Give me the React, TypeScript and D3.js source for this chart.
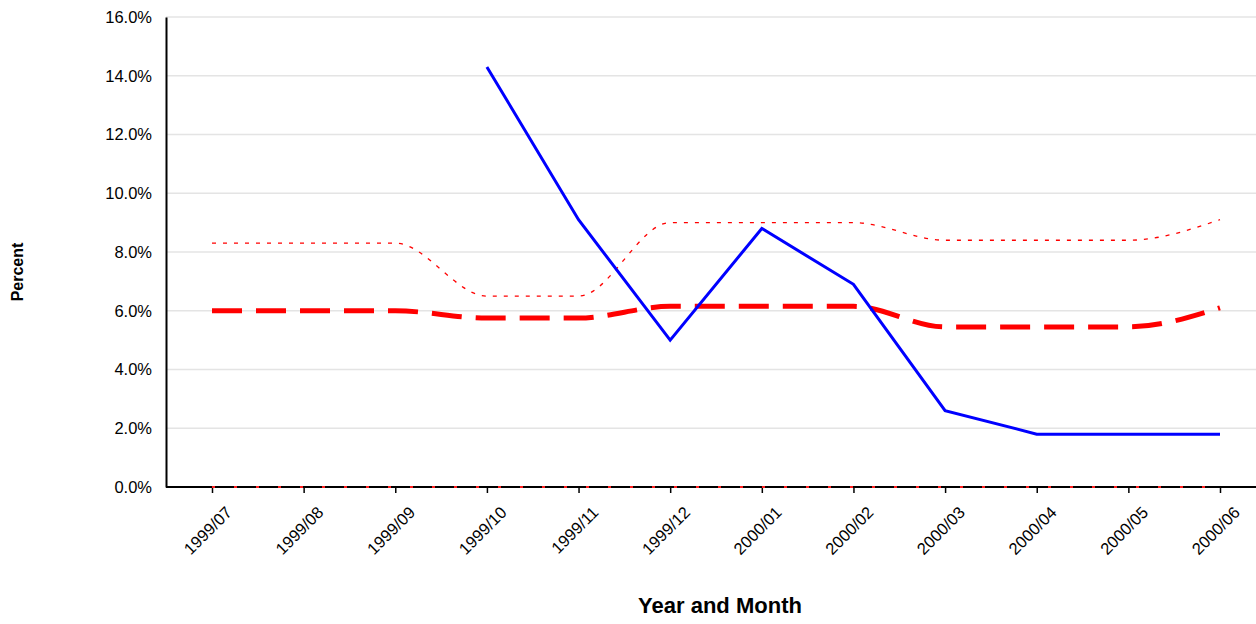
import { useEffect, useRef } from "react";
import * as d3 from "d3";

const months = ["1999/07", "1999/08", "1999/09", "1999/10", "1999/11", "1999/12", "2000/01", "2000/02", "2000/03", "2000/04", "2000/05", "2000/06"];
const actual: (number | null)[] = [null, null, null, 14.3, 9.1, 5.0, 8.8, 6.9, 2.6, 1.8, 1.8, 1.8];
const average = [6.0, 6.0, 6.0, 5.75, 5.75, 6.15, 6.15, 6.15, 5.45, 5.45, 5.45, 6.1];
const upper = [8.3, 8.3, 8.3, 6.5, 6.5, 9.0, 9.0, 9.0, 8.4, 8.4, 8.4, 9.1];
const lower = [0, 0, 0, 0, 0, 0, 0, 0, 0, 0, 0, 0];
const yTicks = [0, 2, 4, 6, 8, 10, 12, 14, 16];

const App = () => {
  const ref = useRef<SVGSVGElement | null>(null);

  useEffect(() => {
    const svg = d3.select(ref.current);
    svg.selectAll("*").remove();
    const left = 166, right = 1256, top = 17, bottom = 487;

    const x = d3.scalePoint<string>().domain(months).range([212, 1220]);
    const y = d3.scaleLinear().domain([0, 16]).range([bottom, top]);
    const font = "Arial, 'Liberation Sans', sans-serif";

    // grid
    svg.append("g").selectAll("line").data(yTicks.slice(1)).enter().append("line")
      .attr("x1", left).attr("x2", right)
      .attr("y1", d => y(d)).attr("y2", d => y(d))
      .attr("stroke", "#e4e4e4").attr("stroke-width", 1.5);

    // y axis
    const ya = svg.append("g").attr("transform", `translate(${left},0)`)
      .call(d3.axisLeft(y).tickValues(yTicks).tickFormat(d => `${(+d).toFixed(1)}%`).tickSize(0).tickPadding(14));
    ya.select(".domain").attr("stroke", "#000").attr("stroke-width", 2);
    ya.selectAll("text").attr("font-family", font).attr("font-size", 16.5).attr("fill", "#000");

    // x axis
    const xa = svg.append("g").attr("transform", `translate(0,${bottom})`)
      .call(d3.axisBottom(x).tickSize(6).tickSizeOuter(0));
    xa.select(".domain").attr("d", `M${left},0H${right}`).attr("stroke", "#000").attr("stroke-width", 2);
    xa.selectAll("line").attr("stroke", "#000").attr("stroke-width", 1.5);
    xa.selectAll("text")
      .attr("font-family", font).attr("font-size", 16.5).attr("fill", "#000")
      .attr("text-anchor", "end").attr("dy", "0.35em")
      .attr("transform", "translate(10,16) rotate(-45)");

    const line = (vals: (number | null)[], curve: d3.CurveFactory) =>
      d3.line<number | null>()
        .defined(d => d !== null)
        .x((_, i) => x(months[i])!)
        .y(d => y(d as number))
        .curve(curve)(vals);

    svg.append("path").attr("d", line(lower, d3.curveLinear)!)
      .attr("fill", "none").attr("stroke", "#ff2020").attr("stroke-width", 2).attr("stroke-dasharray", "3,19");
    svg.append("path").attr("d", line(upper, d3.curveMonotoneX)!)
      .attr("fill", "none").attr("stroke", "#ff0000").attr("stroke-width", 1.3).attr("stroke-dasharray", "4,7");
    svg.append("path").attr("d", line(average, d3.curveMonotoneX)!)
      .attr("fill", "none").attr("stroke", "#ff0000").attr("stroke-width", 5).attr("stroke-dasharray", "30,14");
    svg.append("path").attr("d", line(actual, d3.curveLinear)!)
      .attr("fill", "none").attr("stroke", "#0000ff").attr("stroke-width", 3);

    svg.append("text").attr("x", 720).attr("y", 613).attr("text-anchor", "middle")
      .attr("font-family", font).attr("font-weight", "bold").attr("font-size", 22).text("Year and Month");
    svg.append("text").attr("transform", "translate(23,272) rotate(-90)").attr("text-anchor", "middle")
      .attr("font-family", font).attr("font-weight", "bold").attr("font-size", 16).text("Percent");
  }, []);

  return <svg ref={ref} width={1256} height={624} style={{ position: "absolute", left: 0, top: 0, background: "#fff" }} />;
};

export default App;
